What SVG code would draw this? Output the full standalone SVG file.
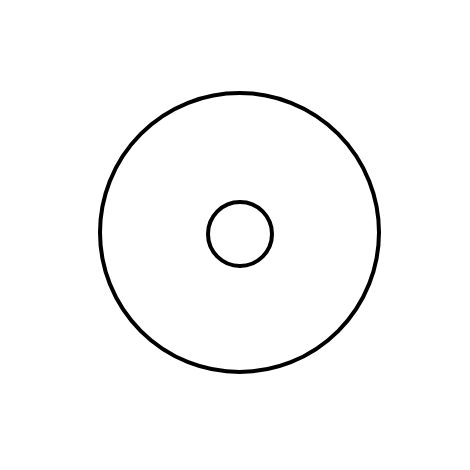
<svg xmlns="http://www.w3.org/2000/svg" width="470" height="470" viewBox="0 0 470 470">
<style>.c{fill:none;stroke:#000;stroke-width:4}</style>
<rect width="470" height="470" fill="#fff"/>
<g id="outer"><circle class="c" cx="239.5" cy="232.5" r="139.5"/></g>
<g id="inner"><circle class="c" cx="240" cy="234" r="32"/></g>
<g id="connectors"></g>
</svg>
